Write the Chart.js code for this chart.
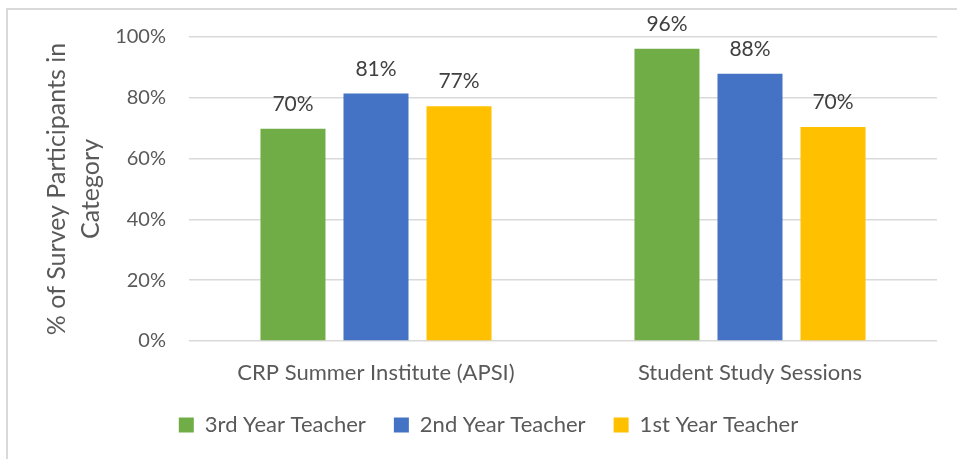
<!DOCTYPE html>
<html>
<head>
<meta charset="utf-8">
<script src="https://cdn.jsdelivr.net/npm/chart.js@4.4.1/dist/chart.umd.min.js"></script>
<style>
    html, body { margin: 0; padding: 0; background: #ffffff; }
    #wrap { position: relative; width: 957px; height: 459px; overflow: hidden; }
    #frame { position: absolute; left: 6px; top: 8px; width: 1000px; height: 500px;
             border-left: 2px solid #d9d9d9; border-top: 2px solid #d9d9d9; }
    canvas { position: absolute; left: 0; top: 0; }
</style>
</head>
<body>
<div id="wrap">
    <div id="frame"></div>
    <canvas id="grafico" width="957" height="459"></canvas>
</div>
<script>
const categories = ['CRP Summer Institute (APSI)', 'Student Study Sessions'];
const seriesNames = ['3rd Year Teacher', '2nd Year Teacher', '1st Year Teacher'];
const thirdYear = [69.8, 96.1];
const secondYear = [81.4, 87.9];
const firstYear = [77.2, 70.4];
const yTicks = [0, 20, 40, 60, 80, 100];

const FONTE = 'Lato';
const CINZA = '#595959';

// rótulos de valor em cima de cada barra
const rotulosBarras = {
    id: 'rotulosBarras',
    afterDatasetsDraw(chart) {
        const ctx = chart.ctx;
        ctx.save();
        ctx.font = '21px ' + FONTE;
        ctx.fillStyle = '#404040';
        ctx.textAlign = 'center';
        ctx.textBaseline = 'alphabetic';
        chart.data.datasets.forEach((ds, i) => {
            chart.getDatasetMeta(i).data.forEach((barra, j) => {
                ctx.fillText(Math.round(ds.data[j]) + '%', barra.x, barra.y - 18);
            });
        });
        ctx.restore();
    }
};

const ctx = document.getElementById('grafico').getContext('2d');
const grafico = new Chart(ctx, {
    type: 'bar',
    data: {
        labels: categories,
        datasets: [
            { label: seriesNames[0], data: thirdYear, backgroundColor: '#70ad47' },
            { label: seriesNames[1], data: secondYear, backgroundColor: '#4472c4' },
            { label: seriesNames[2], data: firstYear, backgroundColor: '#ffc000' }
        ]
    },
    options: {
        responsive: false,
        animation: false,
        categoryPercentage: 0.666,
        barPercentage: 0.783,
        layout: { padding: { left: 40, right: 20, top: 37, bottom: 13 } },
        plugins: {
            tooltip: { enabled: false },
            legend: {
                position: 'bottom',
                labels: {
                    boxWidth: 15,
                    boxHeight: 15,
                    padding: 28,
                    color: CINZA,
                    font: { family: FONTE, size: 22 }
                }
            }
        },
        scales: {
            x: {
                grid: { display: false, drawTicks: false },
                border: { display: false },
                ticks: { color: CINZA, padding: 19, font: { family: FONTE, size: 22 } },
                afterFit: (escala) => { escala.height = 45; }
            },
            y: {
                min: 0,
                max: 100,
                afterBuildTicks: (escala) => { escala.ticks = yTicks.map(v => ({ value: v })); },
                grid: { color: '#d9d9d9', lineWidth: 1.5, drawTicks: false },
                border: { display: false },
                ticks: {
                    color: CINZA,
                    padding: 23,
                    font: { family: FONTE, size: 20 },
                    callback: (v) => v + '%'
                },
                title: {
                    display: true,
                    text: ['% of Survey Participants in', 'Category'],
                    color: CINZA,
                    padding: 0,
                    font: { family: FONTE, size: 25, lineHeight: 1.36 }
                },
                afterFit: (escala) => { escala.width = 149; }
            }
        }
    },
    plugins: [rotulosBarras]
});
</script>
</body>
</html>
